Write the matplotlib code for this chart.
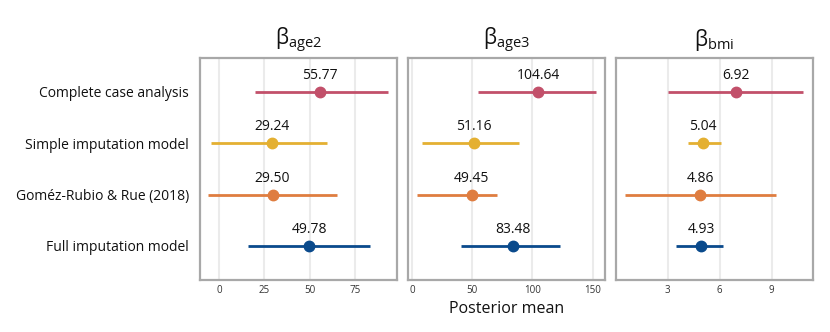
import matplotlib
matplotlib.use("Agg")
import matplotlib.pyplot as plt
import numpy as np

plt.rcParams['font.family'] = ['Open Sans', 'DejaVu Sans']
plt.rcParams['mathtext.fontset'] = 'custom'
plt.rcParams['mathtext.rm'] = 'Open Sans'
plt.rcParams['mathtext.it'] = 'Open Sans'

# Data
models = ["Complete case analysis", "Simple imputation model",
          "Goméz-Rubio & Rue (2018)", "Full imputation model"]
colors = ["#c2506a", "#e4b032", "#df7d40", "#0a4a8c"]
panels = [r"$\mathrm{β}_{\mathrm{age2}}$", r"$\mathrm{β}_{\mathrm{age3}}$",
          r"$\mathrm{β}_{\mathrm{bmi}}$"]

means_age2 = [55.77, 29.24, 29.50, 49.78]
lower_age2 = [19.8, -4.4, -6.0, 15.9]
upper_age2 = [92.9, 59.3, 64.8, 83.0]

means_age3 = [104.64, 51.16, 49.45, 83.48]
lower_age3 = [55.0, 8.3, 4.2, 40.8]
upper_age3 = [153.0, 89.0, 70.8, 123.0]

means_bmi = [6.92, 5.04, 4.86, 4.93]
lower_bmi = [3.0, 4.15, 0.52, 3.5]
upper_bmi = [10.8, 6.1, 9.23, 6.2]

all_means = [means_age2, means_age3, means_bmi]
all_lower = [lower_age2, lower_age3, lower_bmi]
all_upper = [upper_age2, upper_age3, upper_bmi]
xticks = [[0, 25, 50, 75], [0, 50, 100, 150], [3, 6, 9]]
xlims = [(-10.4, 97.8), (-3.3, 160), (0.0, 11.37)]

fig = plt.figure(figsize=(8.3, 3.32), dpi=100)
lefts = [0.241, 0.4916, 0.742]
ypos = np.arange(len(models))[::-1]

for i in range(3):
    ax = fig.add_axes([lefts[i], 0.157, 0.237, 0.668])
    for xt in xticks[i]:
        ax.axvline(xt, color="#ebebeb", lw=1.5, zorder=0)
    for j in range(len(models)):
        ax.plot([all_lower[i][j], all_upper[i][j]], [ypos[j], ypos[j]],
                color=colors[j], lw=2.0, solid_capstyle='butt', zorder=2)
        ax.plot(all_means[i][j], ypos[j], 'o', color=colors[j], ms=7.5, zorder=3)
        ax.annotate(f"{all_means[i][j]:.2f}", (all_means[i][j], ypos[j]),
                    xytext=(0, 6.5), textcoords='offset points',
                    ha='center', va='bottom', fontsize=10, color="#111111")
    ax.set_xlim(*xlims[i])
    ax.set_ylim(-0.66, 3.66)
    ax.set_xticks(xticks[i])
    ax.tick_params(axis='x', length=0, labelsize=7, colors="#333333", pad=4)
    ax.set_yticks(ypos)
    if i == 0:
        ax.set_yticklabels(models, fontsize=10, color="#111111")
        ax.tick_params(axis='y', length=0, pad=8)
    else:
        ax.set_yticklabels([])
        ax.tick_params(axis='y', length=0)
    for sp in ax.spines.values():
        sp.set_color("#a8a8a8")
        sp.set_linewidth(1.6)
    ax.set_title(panels[i], fontsize=15, pad=9, color="#111111")
    if i == 1:
        ax.set_xlabel("Posterior mean", fontsize=11.5, color="#111111", labelpad=3)

plt.savefig("out.png", dpi=100)
plt.close(fig)
